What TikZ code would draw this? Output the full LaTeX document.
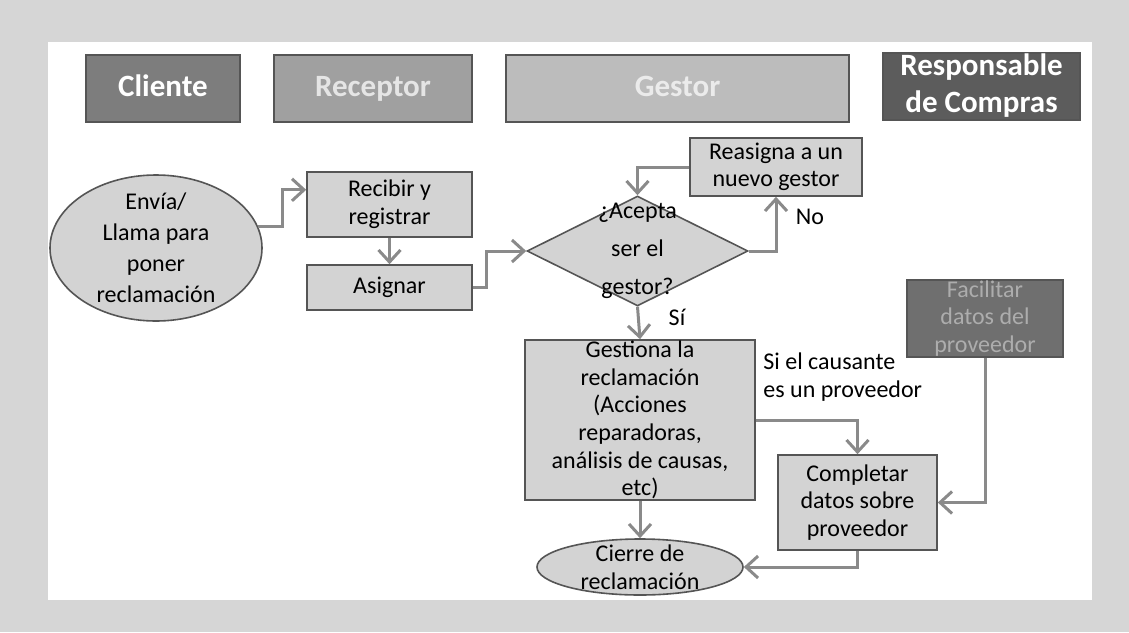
\documentclass[tikz,border=0pt]{standalone}
\usepackage{fontspec}
\setmainfont{Carlito}
\usetikzlibrary{shapes.geometric,arrows.meta}
\definecolor{pagegray}{RGB}{214,214,214}
\definecolor{boxfill}{RGB}{211,211,211}
\definecolor{boxline}{RGB}{85,85,85}
\definecolor{flowgray}{RGB}{138,138,138}
\definecolor{clientefill}{RGB}{125,125,125}
\definecolor{receptorfill}{RGB}{160,160,160}
\definecolor{gestorfill}{RGB}{188,188,188}
\definecolor{comprasfill}{RGB}{92,92,92}
\definecolor{facilitarfill}{RGB}{111,111,111}

\tikzset{
    lane/.style={draw=boxline, line width=1pt, text=white, align=center,
        font=\bfseries\fontsize{15.5}{18.5}\selectfont,
        minimum height=33.5pt, inner sep=0pt},
    onerow/.style={text height=11pt, text depth=3pt},
    box/.style={draw=boxline, fill=boxfill, line width=0.8pt, align=center,
        font=\fontsize{12}{13.8}\selectfont, inner sep=0pt},
    term/.style={box, ellipse},
    decide/.style={box, diamond, aspect=2, inner xsep=-2pt, inner ysep=-6pt,
        font=\fontsize{12}{19}\selectfont},
    flow/.style={draw=flowgray, line width=1.5pt,
        -{Straight Barb[length=6pt,width=11pt]}},
    tag/.style={font=\fontsize{12}{13.8}\selectfont, align=left, inner sep=0pt}
}

\begin{document}
\begin{tikzpicture}[x=0.5pt, y=-0.5pt]
    \useasboundingbox (0, 0) rectangle (1129, 632);
    \fill[pagegray] (0, 0) rectangle (1129, 632);
    \fill[white] (48, 42) rectangle (1092, 600);

    % Lanes
    \node[lane, onerow, fill=clientefill, minimum width=77pt] (cliente) at (163, 88.5) {Cliente};
    \node[lane, onerow, fill=receptorfill, minimum width=99pt, text=white!90!black] (receptor) at (373, 88.5) {Receptor};
    \node[lane, onerow, fill=gestorfill, minimum width=171.5pt, text=white!92!black] (gestor) at (677.5, 88.5) {Gestor};
    \node[lane, fill=comprasfill, minimum width=98.5pt] (compras) at (981.5, 86) {Responsable\\de Compras};

    % Steps
    \node[term, minimum width=106pt, minimum height=73pt, inner ysep=-3.2pt,
          font=\fontsize{12}{15.5}\selectfont] (envia) at (156, 248)
        {Envía/\\Llama para\\poner\\reclamación};
    \node[box, minimum width=82.5pt, minimum height=32.5pt] (recibir) at (389.5, 204.5) {Recibir y\\registrar};
    \node[box, minimum width=82.5pt, minimum height=22.5pt] (asignar) at (389.5, 287.5) {Asignar};
    \node[decide, minimum width=110.5pt, minimum height=55pt] (acepta) at (637.5, 251)
        {¿Acepta\\ser el\\gestor?};
    \node[box, minimum width=86pt, minimum height=29pt] (reasigna) at (776, 167) {Reasigna a un\\nuevo gestor};
    \node[box, minimum width=115pt, minimum height=80pt] (gestiona) at (640, 420)
        {Gestiona la\\reclamación\\(Acciones\\reparadoras,\\análisis de causas,\\etc)};
    \node[box, minimum width=79.5pt, minimum height=47.5pt] (completar) at (857.5, 502.5)
        {Completar\\datos sobre\\proveedor};
    \node[box, fill=facilitarfill, text=white!68!black, minimum width=78pt, minimum height=38.5pt] (facilitar) at (985, 318.5)
        {Facilitar\\datos del\\proveedor};
    \node[term, minimum width=103pt, minimum height=28pt, inner ysep=-3pt] (cierre) at (640, 567)
        {Cierre de\\reclamación};

    % Labels
    \node[tag] (no) at (810, 217) {No};
    \node[tag] (si) at (677, 317) {Sí};
    \node[tag, anchor=west] (causante) at (763, 377) {Si el causante\\es un proveedor};

    % Connectors
    \draw[flow] (envia.12) -- ++(24, 0) |- (recibir.170);
    \draw[flow] (recibir.south) -- (asignar.north);
    \draw[flow] (asignar.east) -- ++(14, 0) |- (acepta.west);
    \draw[flow] (acepta.east) -| (reasigna.south);
    \draw[flow] (reasigna.west) -| (acepta.north);
    \draw[flow] (acepta.south) -- (gestiona.north);
    \draw[flow] (gestiona.east) -| (completar.north);
    \draw[flow] (gestiona.south) -- (cierre.north);
    \draw[flow] (completar.south) |- (cierre.east);
    \draw[flow] (facilitar.south) |- (completar.east);
\end{tikzpicture}
\end{document}
